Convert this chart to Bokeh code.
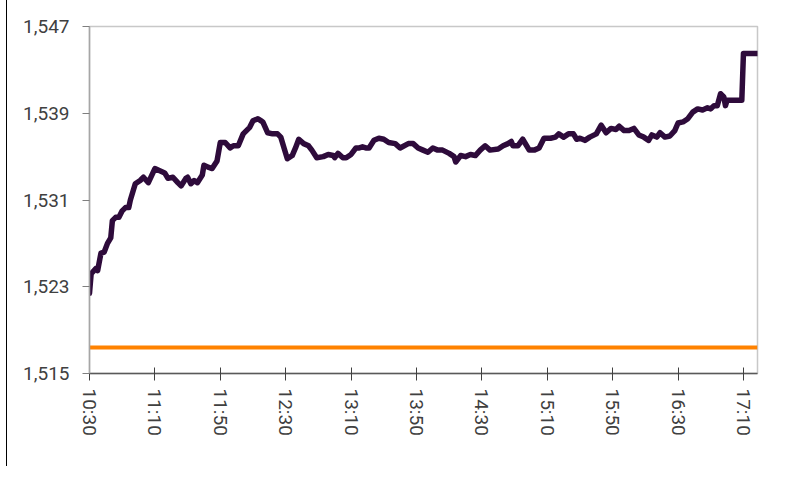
from bokeh.plotting import figure
from bokeh.models import FixedTicker, NumeralTickFormatter, Range1d
from bokeh.embed import file_html
from bokeh.resources import INLINE

# minutes after 10:30
minutes = [0, 1, 4, 5, 7, 9, 11, 13, 14, 16, 18, 20, 22, 24, 25, 28, 31, 33, 36, 40,
           43, 46, 48, 51, 54, 56, 59, 60, 62, 64, 66, 69, 70, 73, 75, 78, 80, 83, 86, 88,
           91, 94, 98, 100, 103, 105, 106, 109, 112, 115, 117, 119, 121, 124, 126, 128, 131, 134, 136, 139,
           143, 146, 149, 150, 152, 155, 157, 160, 163, 165, 167, 169, 171, 174, 177, 180, 183, 187, 190, 195,
           198, 201, 204, 207, 210, 213, 216, 220, 223, 224, 227, 230, 233, 236, 239, 242, 245, 250, 253, 256,
           258, 259, 262, 265, 269, 272, 275, 278, 282, 285, 287, 290, 293, 296, 298, 300, 303, 306, 310, 313,
           316, 319, 322, 324, 327, 330, 333, 336, 339, 342, 344, 347, 349, 352, 355, 358, 360, 363, 366, 369,
           372, 375, 378, 380, 382, 384, 386, 388, 389, 390, 399, 400, 408.6]
price = [1522.4, 1524.2, 1524.7, 1524.5, 1526.1, 1526.2, 1527.0, 1527.5, 1529.1, 1529.4, 1529.4, 1530.0, 1530.3, 1530.3, 1531.0, 1532.5, 1532.8, 1533.1, 1532.6, 1533.9,
         1533.7, 1533.5, 1533.0, 1533.1, 1532.6, 1532.3, 1533.0, 1533.1, 1532.5, 1532.8, 1532.6, 1533.3, 1534.2, 1534.0, 1533.9, 1534.6, 1536.3, 1536.3, 1535.8, 1536.0,
         1536.0, 1537.1, 1537.7, 1538.3, 1538.5, 1538.3, 1538.2, 1537.2, 1537.1, 1537.1, 1536.8, 1535.8, 1534.8, 1535.1, 1535.8, 1536.6, 1536.2, 1536.0, 1535.6, 1534.9,
         1535.0, 1535.2, 1535.1, 1534.9, 1535.3, 1534.9, 1534.9, 1535.2, 1535.8, 1535.8, 1535.9, 1535.8, 1535.8, 1536.5, 1536.7, 1536.6, 1536.3, 1536.2, 1535.8, 1536.2,
         1536.2, 1535.8, 1535.6, 1535.4, 1535.8, 1535.6, 1535.6, 1535.3, 1535.0, 1534.5, 1535.1, 1535.0, 1535.2, 1535.1, 1535.6, 1536.0, 1535.6, 1535.7, 1536.0, 1536.2,
         1536.4, 1536.0, 1536.0, 1536.6, 1535.6, 1535.6, 1535.8, 1536.7, 1536.7, 1536.8, 1537.1, 1536.8, 1537.1, 1537.1, 1536.6, 1536.7, 1536.5, 1536.8, 1537.1, 1537.9,
         1537.2, 1537.6, 1537.5, 1537.8, 1537.4, 1537.4, 1537.6, 1537.0, 1536.8, 1536.5, 1537.0, 1536.8, 1537.2, 1536.8, 1536.9, 1537.4, 1538.1, 1538.2, 1538.5, 1539.1,
         1539.4, 1539.3, 1539.5, 1539.4, 1539.7, 1539.7, 1540.8, 1540.5, 1539.7, 1540.2, 1540.2, 1544.5, 1544.5]

ref_x = [0, 408.6]
ref_level = [1517.4, 1517.4]

x_tick_minutes = [0, 40, 80, 120, 160, 200, 240, 280, 320, 360, 400]
x_tick_labels = ["10:30", "11:10", "11:50", "12:30", "13:10", "13:50", "14:30", "15:10", "15:50", "16:30", "17:10"]
y_ticks = [1515, 1523, 1531, 1539, 1547]

p = figure(width=779, height=466, output_backend="svg", toolbar_location=None,
           x_range=Range1d(0, 408.6), y_range=Range1d(1515, 1547),
           min_border_left=89, min_border_right=22, min_border_top=26, min_border_bottom=93)
p.background_fill_color = "white"
p.border_fill_alpha = 0
p.styles = {"background": "linear-gradient(to right, #ffffff 0px, #ffffff 6px, #000000 6px, #000000 7.5px, #ffffff 7.5px)"}
p.outline_line_color = "#C8C8C8"
p.outline_line_width = 1.5
p.xgrid.grid_line_color = None
p.ygrid.grid_line_color = None

p.line(ref_x, ref_level, line_color="#FF8200", line_width=4)
p.line(minutes, price, line_color="#2E0B3B", line_width=5.5, line_join="round", line_cap="round")

font = "Roboto"
p.yaxis.ticker = FixedTicker(ticks=y_ticks)
p.yaxis.formatter = NumeralTickFormatter(format="0,0")
p.yaxis.axis_line_color = "#A6A6A6"
p.yaxis.axis_line_width = 1.5
p.yaxis.major_tick_line_color = "#7F7F7F"
p.yaxis.major_tick_in = 0
p.yaxis.major_tick_out = 7
p.yaxis.minor_tick_line_color = None
p.yaxis.major_label_text_font = font
p.yaxis.major_label_text_font_size = "19px"
p.yaxis.major_label_text_color = "#404040"
p.yaxis.major_label_standoff = 13

p.xaxis.ticker = FixedTicker(ticks=x_tick_minutes)
p.xaxis.major_label_overrides = {m: s for m, s in zip(x_tick_minutes, x_tick_labels)}
p.xaxis.major_label_orientation = "vertical"
p.xaxis.axis_line_color = "#595959"
p.xaxis.axis_line_width = 1.5
p.xaxis.major_tick_line_color = "#404040"
p.xaxis.major_tick_in = 6
p.xaxis.major_tick_out = 7
p.xaxis.minor_tick_line_color = None
p.xaxis.major_label_text_font = font
p.xaxis.major_label_text_font_size = "19px"
p.xaxis.major_label_text_color = "#404040"
p.xaxis.major_label_standoff = 8

open("out.html", "w").write(file_html(p, INLINE))
